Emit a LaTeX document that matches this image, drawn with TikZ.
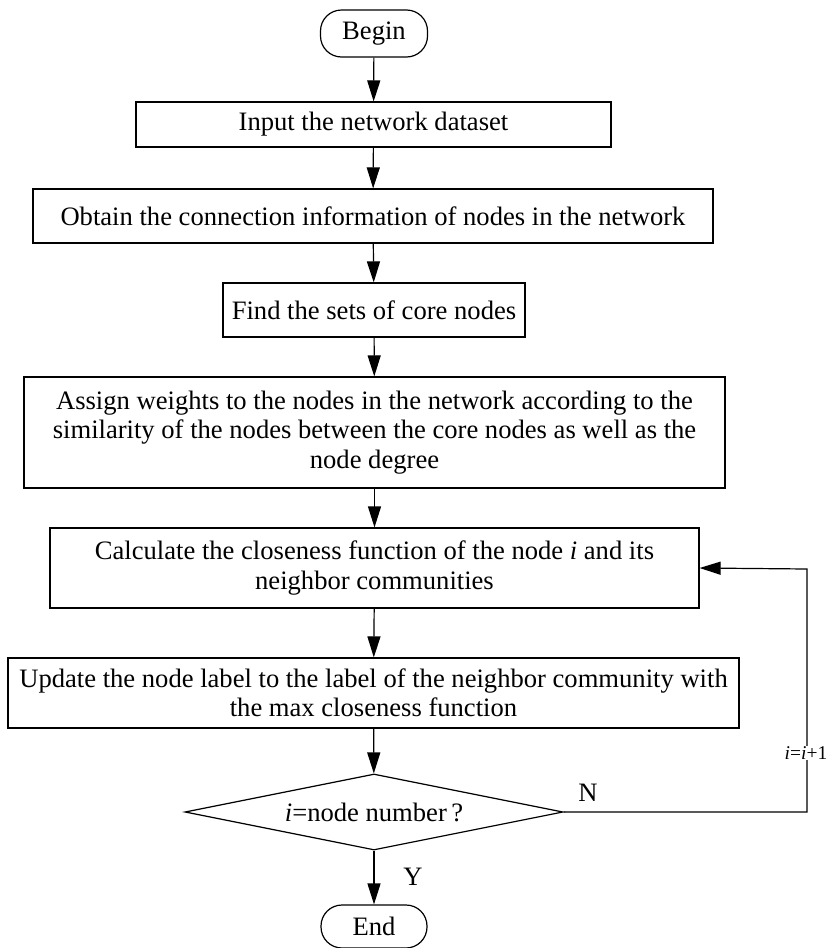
\documentclass[tikz,border=0pt]{standalone}
\usepackage{fontspec}
\setmainfont{Liberation Serif}
\usetikzlibrary{arrows.meta,shapes.geometric}
\begin{document}
\begin{tikzpicture}[x=1pt,y=-1pt,
  every node/.style={font=\fontsize{26.6}{29.5}\selectfont},
  box/.style={draw,line width=1.2pt,inner sep=0pt,align=center},
  term/.style={draw,line width=1.2pt,rounded corners=21pt,inner sep=0pt},
  decision/.style={draw,line width=1.2pt,diamond,aspect=5,inner sep=0pt},
  flow/.style={line width=1.2pt,-{Triangle[length=21pt,width=13pt]}},
  lbl/.style={inner sep=1pt}
]
\path[use as bounding box] (0,0) rectangle (828,948);

\node[term,minimum width=107pt,minimum height=47pt] (begin) at (374,33.5) {Begin};
\node[box,minimum width=475pt,minimum height=45pt] (input) at (373.5,124.5) {Input the network dataset};
\node[box,minimum width=680pt,minimum height=54pt] (obtain) at (373,216) {Obtain the connection information of nodes in the network};
\node[box,minimum width=302pt,minimum height=54pt] (find) at (374,310) {Find the sets of core nodes};
\node[box,minimum width=701pt,minimum height=111pt] (assign) at (374.5,432.5)
  {Assign weights to the nodes in the network according to the\\
   similarity of the nodes between the core nodes as well as the\\
   node degree};
\node[box,minimum width=649pt,minimum height=80pt] (calc) at (374.5,568)
  {Calculate the closeness function of the node \textit{i} and its\\
   neighbor communities};
\node[box,minimum width=731pt,minimum height=70pt] (update) at (373.5,693)
  {Update the node label to the label of the neighbor community with\\
   the max closeness function};
\node[decision,minimum width=378pt,minimum height=76pt] (check) at (374,812)
  {\textit{i}=node number\,?};
\node[term,minimum width=106pt,minimum height=43pt] (end) at (374,926.5) {End};

\coordinate (loopa) at (807,812);
\coordinate (loopb) at (807,569);

\draw[flow] (begin) -- (input);
\draw[flow] (input) -- (obtain);
\draw[flow] (obtain) -- (find);
\draw[flow] (find) -- (assign);
\draw[flow] (assign) -- (calc);
\draw[flow] (calc) -- (update);
\draw[flow] (update) -- (check);
\draw[flow] (check) -- (end);
\draw[flow] (check.east) -- (loopa) -- (loopb) -- (calc.east);

\node[lbl,fill=white] (inc) at (806,753) {\fontsize{19.5}{22}\selectfont\textit{i}=\textit{i}+1};
\node[lbl] (no) at (588,793) {N};
\node[lbl] (yes) at (413,877) {Y};
\end{tikzpicture}
\end{document}
